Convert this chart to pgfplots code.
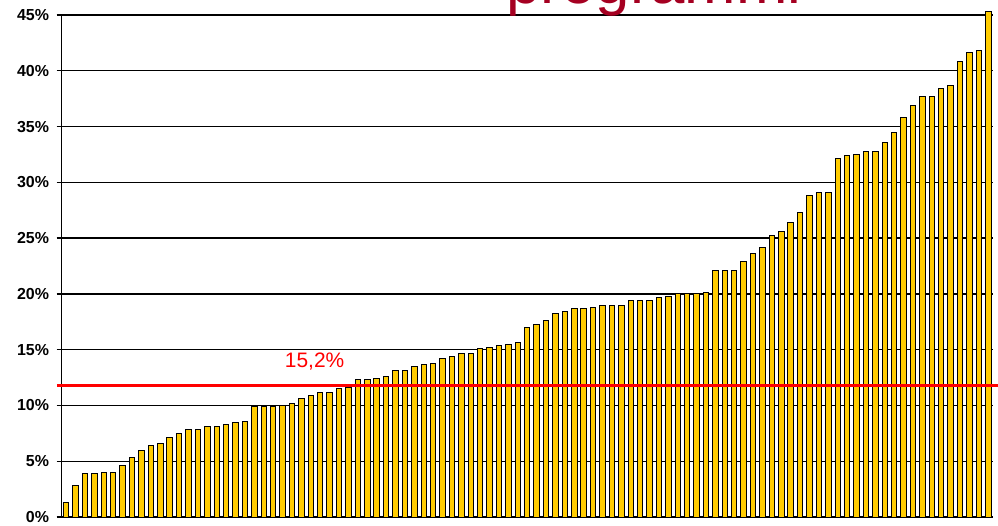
\documentclass[border=0pt]{standalone}
\usepackage{fontspec}
\setmainfont{Liberation Sans}
\usepackage{pgfplots}
\usepackage{pgfplotstable}
\pgfplotsset{compat=1.18}
\definecolor{barC}{HTML}{FFCC00}
\definecolor{titleC}{HTML}{A50021}

% share per programme, sorted
\pgfplotstableread{
x y
1 1.3
2 2.8
3 3.9
4 3.9
5 4.0
6 4.0
7 4.6
8 5.3
9 6.0
10 6.4
11 6.6
12 7.1
13 7.5
14 7.8
15 7.8
16 8.1
17 8.1
18 8.3
19 8.5
20 8.6
21 9.9
22 9.9
23 9.9
24 10.0
25 10.2
26 10.6
27 10.9
28 11.2
29 11.2
30 11.5
31 11.6
32 12.3
33 12.3
34 12.4
35 12.6
36 13.1
37 13.1
38 13.5
39 13.7
40 13.8
41 14.2
42 14.4
43 14.7
44 14.7
45 15.1
46 15.2
47 15.4
48 15.5
49 15.6
50 17.0
51 17.3
52 17.6
53 18.2
54 18.4
55 18.7
56 18.7
57 18.8
58 19.0
59 19.0
60 19.0
61 19.4
62 19.4
63 19.4
64 19.7
65 19.8
66 20.0
67 20.0
68 20.0
69 20.1
70 22.1
71 22.1
72 22.1
73 22.9
74 23.6
75 24.2
76 25.2
77 25.6
78 26.4
79 27.3
80 28.8
81 29.1
82 29.1
83 32.1
84 32.4
85 32.5
86 32.8
87 32.8
88 33.6
89 34.5
90 35.8
91 36.9
92 37.7
93 37.7
94 38.4
95 38.7
96 40.8
97 41.6
98 41.8
99 45.3
}\shares

\begin{document}
\begin{tikzpicture}
  \useasboundingbox (0,0) rectangle (998bp,526bp);
  \begin{axis}[
    at={(61.5bp,9bp)}, anchor=south west, scale only axis,
    width=931.5bp, height=502bp,
    xmin=0.5, xmax=99.5, ymin=0, ymax=45,
    ytick={0,5,...,45}, xtick=\empty,
    ymajorgrids, grid style={black, line width=1.3bp},
    axis x line*=bottom, axis y line*=left,
    axis line style={black, line width=1.5bp, -},
    tick style={black, line width=1.3bp}, major tick length=5bp,
    tick align=outside,
    yticklabel={\pgfmathprintnumber{\tick}\%},
    y tick label style={font=\fontsize{16}{16}\selectfont\bfseries,
      /pgf/number format/assume math mode=true, xshift=-4bp},
    clip=false,
  ]
    \addplot[ybar, bar width=0.58, bar shift=0pt, fill=barC, draw=black,
      line width=1bp] table[x=x, y=y] {\shares};
    \addplot[red, line width=3bp] coordinates {(0.02,11.8) (100,11.8)};
    \node[red, font=\fontsize{21}{21}\selectfont] at (axis cs:27.4,13.9) {15,2\%};
  \end{axis}
  % title lies partly above the page edge, as in the source picture
  \node[anchor=base, text=titleC, font=\fontsize{62}{62}\selectfont, inner sep=0pt]
    at (654bp,522bp) {programmi};
\end{tikzpicture}
\end{document}
